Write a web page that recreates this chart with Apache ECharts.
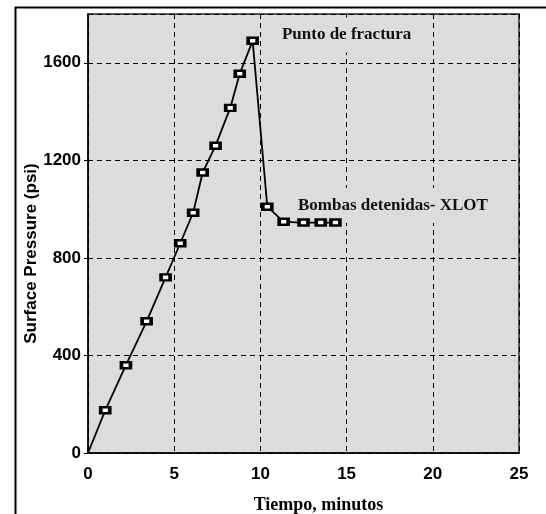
<!DOCTYPE html>
<html>
<head>
<meta charset="utf-8">
<script src="https://cdn.jsdelivr.net/npm/echarts@6/dist/echarts.min.js"></script>
<style>html,body{margin:0;padding:0;background:#fff}#c{width:546px;height:514px}</style>
</head>
<body>
<div id="c"></div>
<script>
// Data
var tiempo   = [0, 1.0, 2.2, 3.4, 4.5, 5.35, 6.1, 6.65, 7.4, 8.25, 8.8, 9.55, 10.4, 11.35, 12.5, 13.5, 14.35];
var presion  = [0, 175, 360, 540, 720, 860, 985, 1150, 1260, 1415, 1555, 1690, 1010, 948, 945, 945, 945];
var xTicks = [0, 5, 10, 15, 20, 25];
var yTicks = [0, 400, 800, 1200, 1600];
var annotationText = ['Punto de fractura', 'Bombas detenidas- XLOT'];
var annotationX = [11.25, 12.18];
var annotationY = [1714, 1015];

var chart = echarts.init(document.getElementById('c'));
var pts = tiempo.map(function (t, i) {
  var d = {value: [t, presion[i]]};
  if (i === 0) d.symbol = 'none';
  return d;
});
var annData = annotationText.map(function (s, i) {
  return {value: [annotationX[i], annotationY[i]], name: s};
});
var sansBold = {fontFamily: 'Liberation Sans, Arial, sans-serif', fontWeight: 'bold', fontSize: 17, color: '#000'};
chart.setOption({
  animation: false,
  backgroundColor: '#fff',
  graphic: [{
    type: 'rect', left: 13, top: 5, z: -10,
    shape: {width: 600, height: 600},
    style: {fill: 'none', stroke: '#000', lineWidth: 2}
  }],
  grid: {left: 88, top: 14, right: 27, bottom: 61, show: true, outerBoundsMode: 'none',
         backgroundColor: '#dcdcdc', borderColor: '#222', borderWidth: 1.5},
  xAxis: {
    type: 'value', min: xTicks[0], max: xTicks[xTicks.length - 1], interval: 5,
    name: 'Tiempo, minutos', nameLocation: 'middle', nameGap: 43, nameMoveOverlap: false,
    nameTextStyle: {fontFamily: 'Liberation Serif, Times New Roman, serif', fontWeight: 'bold', fontSize: 18, color: '#000',
                    padding: [0, 0, 0, 30]},
    axisLine: {lineStyle: {color: '#000', width: 1.5}},
    axisTick: {show: false},
    axisLabel: Object.assign({margin: 13, formatter: function (v) { return String(v); }}, sansBold),
    splitLine: {show: true, lineStyle: {color: '#000', type: [5, 4], width: 1}}
  },
  yAxis: {
    type: 'value', min: yTicks[0], max: 1800, interval: 400,
    name: 'Surface Pressure (psi)', nameLocation: 'middle', nameGap: 48, nameMoveOverlap: false,
    nameTextStyle: {fontFamily: 'Liberation Sans, Arial, sans-serif', fontWeight: 'bold', fontSize: 17, color: '#000',
                    padding: [0, 40, 0, 0]},
    axisLine: {lineStyle: {color: '#000', width: 1.5}},
    axisTick: {show: true, length: 4, lineStyle: {color: '#000'}},
    axisLabel: Object.assign({margin: 7, showMaxLabel: false, formatter: function (v) { return String(v); }}, sansBold),
    splitLine: {show: true, lineStyle: {color: '#000', type: [5, 4], width: 1}}
  },
  series: [{
    type: 'line',
    data: pts,
    symbol: 'rect',
    symbolSize: [9, 6],
    showAllSymbol: true,
    lineStyle: {color: '#000', width: 1.8},
    itemStyle: {color: '#fff', borderColor: '#000', borderWidth: 3},
    z: 5
  }, {
    type: 'scatter',
    data: annData,
    symbolSize: 0,
    silent: true,
    z: 3,
    itemStyle: {opacity: 1},
    label: {
      show: true, position: 'right', distance: 0, opacity: 1,
      formatter: function (p) { return p.name; },
      fontFamily: 'Liberation Serif, Times New Roman, serif', fontWeight: 'bold', fontSize: 17, color: '#111',
      backgroundColor: '#dcdcdc', padding: [9, 3, 9, 0]
    }
  }]
});
</script>
</body>
</html>
